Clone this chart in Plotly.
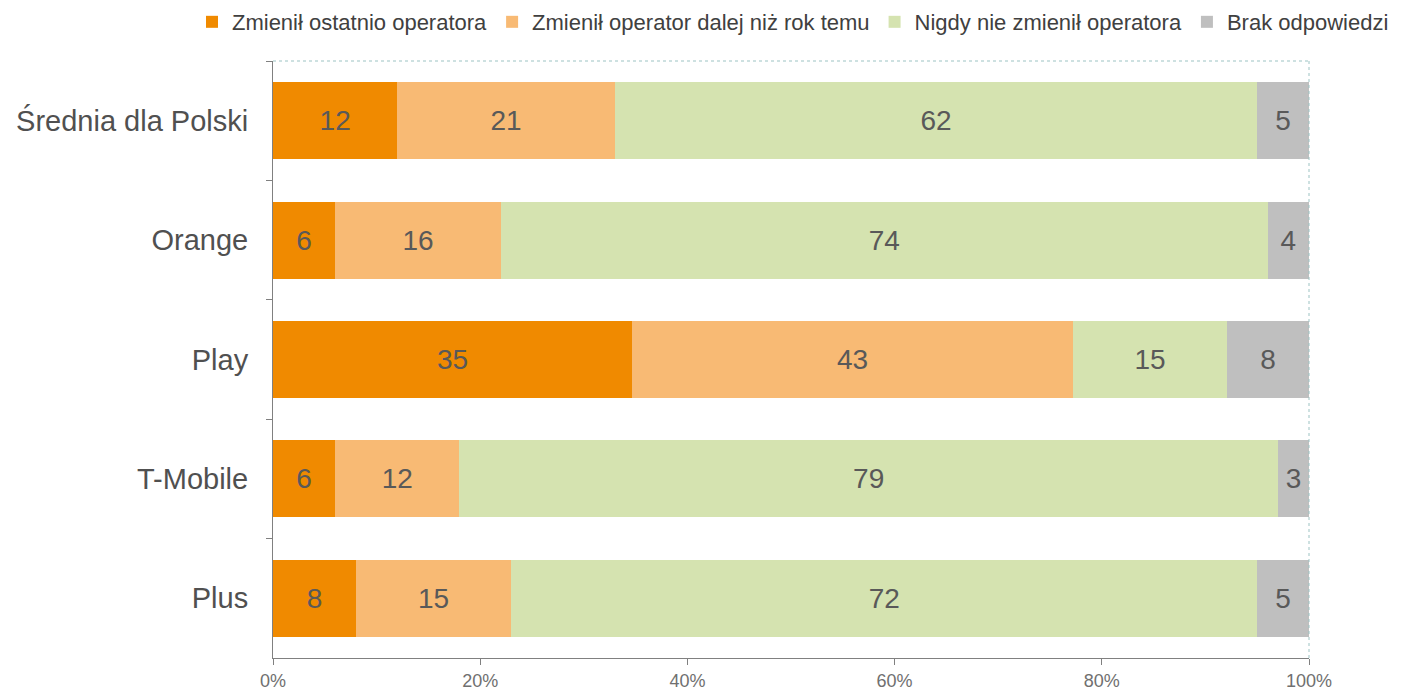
import plotly.graph_objects as go

categories = ["Średnia dla Polski", "Orange", "Play", "T-Mobile", "Plus"]
series_names = ["Zmienił ostatnio operatora", "Zmienił operator dalej niż rok temu",
                "Nigdy nie zmienił operatora", "Brak odpowiedzi"]
recent = [12, 6, 35, 6, 8]
older = [21, 16, 43, 12, 15]
never = [62, 74, 15, 79, 72]
no_answer = [5, 4, 8, 3, 5]
colors = ["#F08A00", "#F8BA74", "#D5E3B0", "#BFBFBF"]
x_ticks = [0, 20, 40, 60, 80, 100]

FONT = "Liberation Sans, Arial"

fig = go.Figure()
for name, vals, col in zip(series_names, [recent, older, never, no_answer], colors):
    fig.add_trace(go.Bar(
        y=categories, x=vals, name=name, orientation="h",
        marker=dict(color=col, line=dict(width=0)),
        text=[str(v) for v in vals], textposition="inside",
        insidetextanchor="middle", constraintext="none",
        textfont=dict(family=FONT, size=28, color="#595959"),
        hoverinfo="x+name",
    ))

# page has an 8px body margin, so the figure is 1400x682 and placed at (8, 8)
fig.update_layout(
    barmode="stack", barnorm="percent", bargap=0.355,
    width=1400, height=682,
    margin=dict(l=265, r=99, t=53, b=32, autoexpand=False),
    paper_bgcolor="white", plot_bgcolor="white",
    font=dict(family=FONT, color="#595959"),
    uniformtext=dict(minsize=28, mode="show"),
    legend=dict(orientation="h", x=-0.0782, xanchor="left", y=1.0653, yanchor="middle",
                font=dict(family=FONT, size=22, color="#404040"), traceorder="normal",
                itemwidth=30, bgcolor="rgba(0,0,0,0)"),
    showlegend=True,
)
fig.update_yaxes(
    autorange="reversed", type="category",
    ticks="outside", tickson="boundaries", ticklen=6, tickcolor="#808080",
    showline=True, linecolor="#808080", linewidth=1,
    tickfont=dict(family=FONT, size=29, color="#505050"), showgrid=False,
    ticklabelstandoff=18,
)
fig.update_xaxes(
    range=[0, 100], tickvals=x_ticks, ticktext=[f"{v}%" for v in x_ticks],
    ticks="outside", ticklen=6, tickcolor="#808080",
    showline=True, linecolor="#808080", linewidth=1,
    tickfont=dict(family=FONT, size=18, color="#707070"), showgrid=False, zeroline=False,
)
fig.add_shape(type="line", xref="paper", yref="paper", x0=0, x1=1, y0=1, y1=1,
              line=dict(color="#9CC3C3", width=1, dash="dot"))
fig.add_shape(type="line", xref="paper", yref="paper", x0=1, x1=1, y0=0, y1=1,
              line=dict(color="#9CC3C3", width=1, dash="dot"))

fig.write_html("out.html")
